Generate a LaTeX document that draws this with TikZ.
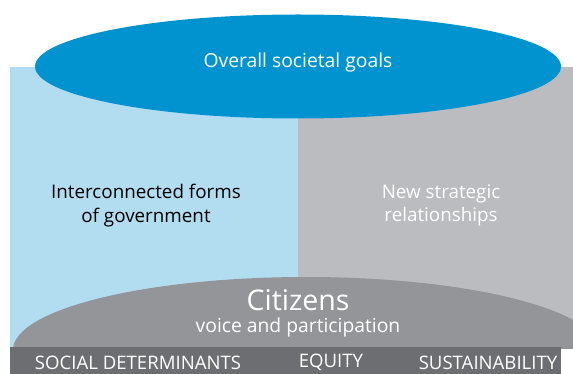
\documentclass[tikz,border=0pt]{standalone}
\usepackage{fontspec}
\setmainfont{Open Sans}
\definecolor{topblue}{RGB}{0,147,208}
\definecolor{lightblue}{RGB}{178,221,241}
\definecolor{lightgray}{RGB}{187,188,192}
\definecolor{midgray}{RGB}{147,149,152}
\definecolor{darkgray}{RGB}{109,110,113}
\begin{document}
\begin{tikzpicture}[x=1pt,y=-1pt,
  lbl/.style={align=center,inner sep=0pt,font=\fontsize{18.8}{23.5}\selectfont},
  barlbl/.style={text=white,inner sep=0pt,font=\fontsize{18.6}{20}\selectfont}]
\useasboundingbox (0,0) rectangle (573,374);
% panels
\fill[lightblue] (10,67) rectangle (298,348);
\fill[lightgray] (298,67) rectangle (573,348);
% bottom ellipse clipped
\begin{scope}
\clip (10,0) rectangle (573,348);
\fill[midgray] (306,350) ellipse[x radius=293,y radius=73];
\end{scope}
% bottom bar
\fill[darkgray] (10,347) rectangle (561,374);
% top ellipse
\fill[topblue] (298,66.5) ellipse[x radius=263,y radius=52];
% texts
\node[lbl,text=white,font=\fontsize{19.3}{23}\selectfont] (goals) at (298,62) {Overall societal goals};
\node[lbl,text=black] (gov) at (146,205.5) {Interconnected forms\\of government};
\node[lbl,text=white] (rel) at (441,205.5) {New strategic\\relationships};
\node[text=white,inner sep=0pt,font=\fontsize{28.5}{30}\selectfont] (cit) at (298,300) {Citizens};
\node[text=white,inner sep=0pt,font=\fontsize{19.3}{21}\selectfont] (voice) at (298,327) {voice and participation};
\node[barlbl] (sd) at (138,362.5) {SOCIAL DETERMINANTS};
\node[barlbl] (eq) at (331,362.5) {EQUITY};
\node[barlbl] (sus) at (488,362.5) {SUSTAINABILITY};
\end{tikzpicture}
\end{document}
